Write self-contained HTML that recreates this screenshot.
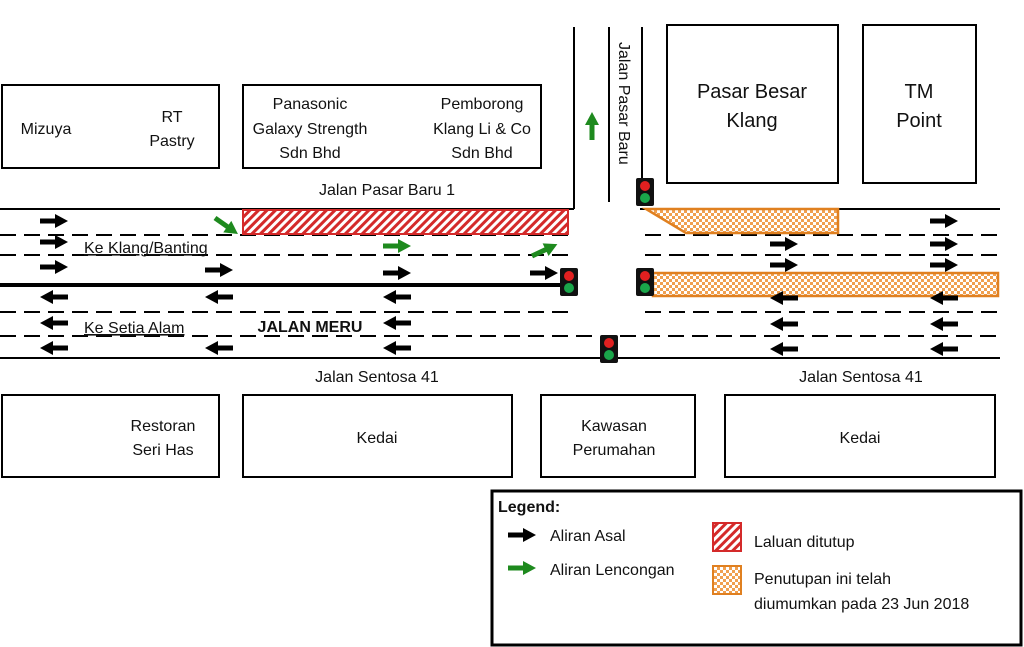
<!DOCTYPE html>
<html><head><meta charset="utf-8"><style>
html,body{margin:0;padding:0;background:#fff;}
svg{display:block;font-family:"Liberation Sans",Calibri,sans-serif;}
</style></head><body>
<svg width="1024" height="647" viewBox="0 0 1024 647" xmlns="http://www.w3.org/2000/svg">
<defs>
<pattern id="hatch" width="6" height="6" patternUnits="userSpaceOnUse" patternTransform="rotate(45)">
<rect width="6" height="6" fill="#fff"/><rect width="3" height="6" fill="#d42a2a"/></pattern>
<pattern id="chk" width="6" height="6" patternUnits="userSpaceOnUse">
<rect width="6" height="6" fill="#fff"/><rect width="3" height="3" fill="#f0a050"/><rect x="3" y="3" width="3" height="3" fill="#f0a050"/></pattern>
<g id="ar"><rect x="0" y="-2.5" width="17" height="5" fill="#000"/><polygon points="15,-7 28,0 15,7" fill="#000"/></g>
<g id="al"><rect x="11" y="-2.5" width="17" height="5" fill="#000"/><polygon points="13,-7 0,0 13,7" fill="#000"/></g>
<g id="ag"><rect x="0" y="-2.5" width="17" height="5" fill="#1e8a1e"/><polygon points="15,-7 28,0 15,7" fill="#1e8a1e"/></g>
<g id="tl"><rect x="0" y="0" width="18" height="28" rx="2" fill="#111"/><circle cx="9" cy="8" r="5" fill="#e02020"/><circle cx="9" cy="20" r="5" fill="#1aa64a"/></g>
</defs>
<g fill="none" stroke="#000" stroke-width="2">
<rect x="2" y="85" width="217" height="83"/>
<rect x="243" y="85" width="298" height="83"/>
<rect x="667" y="25" width="171" height="158"/>
<rect x="863" y="25" width="113" height="158"/>
<rect x="2" y="395" width="217" height="82"/>
<rect x="243" y="395" width="269" height="82"/>
<rect x="541" y="395" width="154" height="82"/>
<rect x="725" y="395" width="270" height="82"/>
<rect x="492" y="491" width="529" height="154" stroke-width="3"/>
<line x1="574" y1="27" x2="574" y2="209"/>
<line x1="609" y1="27" x2="609" y2="202"/>
<line x1="642" y1="27" x2="642" y2="182"/>
<line x1="0" y1="209" x2="574" y2="209"/>
<line x1="640" y1="209" x2="1000" y2="209"/>
<line x1="0" y1="358" x2="1000" y2="358"/>
<line x1="0" y1="285" x2="562" y2="285" stroke-width="4"/>
<g stroke-dasharray="16,8">
<line x1="0" y1="235" x2="570" y2="235"/><line x1="645" y1="235" x2="1000" y2="235"/>
<line x1="0" y1="255" x2="570" y2="255"/><line x1="645" y1="255" x2="1000" y2="255"/>
<line x1="0" y1="312" x2="570" y2="312"/><line x1="645" y1="312" x2="1000" y2="312"/>
<line x1="0" y1="336" x2="600" y2="336"/><line x1="620" y1="336" x2="1000" y2="336"/>
</g></g>
<rect x="243" y="210" width="325" height="24" fill="url(#hatch)" stroke="#d42a2a" stroke-width="2"/>
<polygon points="646,209 838,209 838,233 686,233" fill="url(#chk)" stroke="#e08020" stroke-width="2.5"/>
<rect x="653" y="273" width="345" height="23" fill="url(#chk)" stroke="#e08020" stroke-width="2.5"/>
<use href="#tl" x="560" y="268"/><use href="#tl" x="636" y="178"/><use href="#tl" x="636" y="268"/><use href="#tl" x="600" y="335"/>
<use href="#ar" x="40" y="221"/><use href="#ar" x="40" y="242"/><use href="#ar" x="40" y="267"/>
<use href="#ar" x="205" y="270"/><use href="#ar" x="383" y="273"/><use href="#ar" x="530" y="273"/>
<use href="#al" x="40" y="297"/><use href="#al" x="205" y="297"/><use href="#al" x="383" y="297"/>
<use href="#al" x="40" y="323"/><use href="#al" x="383" y="323"/>
<use href="#al" x="40" y="348"/><use href="#al" x="205" y="348"/><use href="#al" x="383" y="348"/>
<use href="#ar" x="930" y="221"/><use href="#ar" x="770" y="244"/><use href="#ar" x="930" y="244"/>
<use href="#ar" x="770" y="265"/><use href="#ar" x="930" y="265"/>
<use href="#al" x="770" y="298"/><use href="#al" x="930" y="298"/>
<use href="#al" x="770" y="324"/><use href="#al" x="930" y="324"/>
<use href="#al" x="770" y="349"/><use href="#al" x="930" y="349"/>
<use href="#ag" x="383" y="246"/>
<use href="#ag" transform="translate(215,218) rotate(35)"/>
<use href="#ag" transform="translate(532,256) rotate(-25)"/>
<use href="#ag" transform="translate(592,140) rotate(-90)"/>
<g font-size="16" fill="#111" text-anchor="middle">
<text x="46" y="134">Mizuya</text>
<text x="172" y="122">RT</text><text x="172" y="146">Pastry</text>
<text x="310" y="109">Panasonic</text><text x="310" y="134">Galaxy Strength</text><text x="310" y="158">Sdn Bhd</text>
<text x="482" y="109">Pemborong</text><text x="482" y="134">Klang Li &amp; Co</text><text x="482" y="158">Sdn Bhd</text>
<text x="387" y="195">Jalan Pasar Baru 1</text>
<text x="752" y="98" font-size="20">Pasar Besar</text><text x="752" y="127" font-size="20">Klang</text>
<text x="919" y="98" font-size="20">TM</text><text x="919" y="127" font-size="20">Point</text>
<text x="377" y="382">Jalan Sentosa 41</text><text x="861" y="382">Jalan Sentosa 41</text>
<text x="163" y="431">Restoran</text><text x="163" y="455">Seri Has</text>
<text x="377" y="443">Kedai</text>
<text x="614" y="431">Kawasan</text><text x="614" y="455">Perumahan</text>
<text x="860" y="443">Kedai</text>
<text x="310" y="332" font-weight="bold">JALAN MERU</text>
</g>
<g font-size="16" fill="#111">
<text x="84" y="253" text-decoration="underline">Ke Klang/Banting</text>
<text x="84" y="333" text-decoration="underline">Ke Setia Alam</text>
<text transform="translate(619,42) rotate(90)">Jalan Pasar Baru</text>
<text x="498" y="512" font-weight="bold">Legend:</text>
<text x="550" y="541">Aliran Asal</text>
<text x="550" y="575">Aliran Lencongan</text>
<text x="754" y="547">Laluan ditutup</text>
<text x="754" y="584">Penutupan ini telah</text>
<text x="754" y="609">diumumkan pada 23 Jun 2018</text>
</g>
<use href="#ar" x="508" y="535"/><use href="#ag" x="508" y="568"/>
<rect x="713" y="523" width="28" height="28" fill="url(#hatch)" stroke="#d42a2a" stroke-width="2"/>
<rect x="713" y="566" width="28" height="28" fill="url(#chk)" stroke="#e08020" stroke-width="2"/>
</svg>
</body></html>
